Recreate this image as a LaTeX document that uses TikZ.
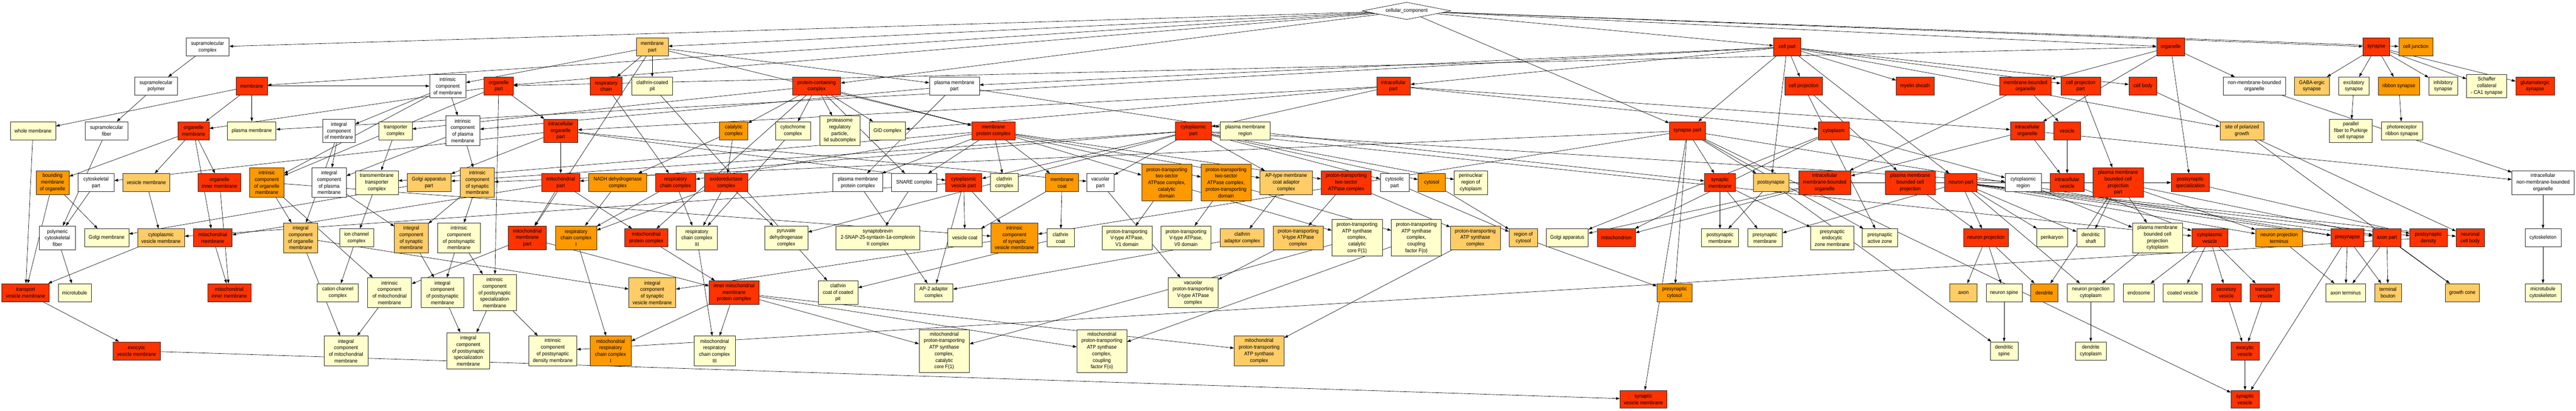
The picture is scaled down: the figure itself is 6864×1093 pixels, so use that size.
\documentclass[tikz,border=0pt]{standalone}
\usepackage{fontspec}
\setmainfont{Liberation Sans}[FakeStretch=0.92]
\usetikzlibrary{shapes.geometric,arrows.meta}
\definecolor{red1}{HTML}{FF3300}
\definecolor{ora}{HTML}{FF9900}
\definecolor{lor}{HTML}{FFCC66}
\definecolor{ly}{HTML}{FFFFCC}
\pgfdeclarelayer{back}
\pgfdeclarelayer{bg}
\pgfsetlayers{back,bg,main}
\tikzset{
  box/.style={draw=black!85,line width=0.9pt,inner sep=0pt,align=center,text=black,
    font=\fontsize{14pt}{17.4pt}\selectfont},
  lnk/.style={draw=black,line width=0.9pt,-{Triangle[length=10pt,width=7pt]}}
}
\newcommand\nd[7]{\node[box,fill=#6,minimum width=#4pt,minimum height=#5pt] (#1) at (#2,#3) {#7};}
\begin{document}
\begin{tikzpicture}[x=1pt,y=-1pt]
\begin{pgfonlayer}{back}
\fill[white] (0,0) rectangle (6864,1093);
\end{pgfonlayer}
\useasboundingbox (0,0) rectangle (6864,1093);
% row 0
\node[diamond,draw=black,line width=0.9pt,fill=white,aspect=5.15,inner sep=0pt,minimum width=237pt,minimum height=46pt,font=\fontsize{14pt}{17.4pt}\selectfont] (cc) at (3748,29) {cellular\_component};
% row 1
\nd{supcx}{553}{125}{115}{48}{white}{supramolecular\\complex}
\nd{mempart}{1738}{125}{85}{48}{lor}{membrane\\part}
\nd{cellpart}{4762}{125}{73}{48}{red1}{cell part}
\nd{organelle}{5784}{125}{75}{48}{red1}{organelle}
\nd{synapse}{6332}{125}{72}{48}{red1}{synapse}
\nd{celljunc}{6437}{125}{91}{48}{ora}{cell junction}
% row 2
\nd{suppoly}{416}{229}{114}{48}{white}{supramolecular\\polymer}
\nd{membrane}{671}{229}{83}{48}{red1}{membrane}
\nd{intrmem}{1193}{229}{96}{62}{white}{intrinsic\\component\\of membrane}
\nd{orgpart}{1329}{229}{78}{48}{red1}{organelle\\part}
\nd{respchain}{1615}{229}{85}{48}{red1}{respiratory\\chain}
\nd{ccpit}{1738}{229}{109}{48}{ly}{clathrin-coated\\pit}
\nd{pcc}{2176}{229}{128}{48}{red1}{protein-containing\\complex}
\nd{pmpart}{2543}{229}{133}{48}{white}{plasma membrane\\part}
\nd{icpart}{3713}{229}{90}{48}{red1}{intracellular\\part}
\nd{cellproj}{4806}{229}{101}{48}{red1}{cell projection}
\nd{myelin}{5103}{229}{101}{48}{red1}{myelin sheath}
\nd{mbo}{5397}{229}{138}{48}{red1}{membrane-bounded\\organelle}
\nd{cppart}{5544}{229}{106}{48}{red1}{cell projection\\part}
\nd{cellbody}{5710}{229}{75}{48}{red1}{cell body}
\nd{nmbo}{6007}{229}{165}{48}{white}{non-membrane-bounded\\organelle}
\nd{gaba}{6160}{229}{94}{48}{lor}{GABA-ergic\\synapse}
\nd{excit}{6272}{229}{82}{48}{ly}{excitatory\\synapse}
\nd{ribbon}{6392}{229}{110}{48}{ora}{ribbon synapse}
\nd{inhib}{6510}{229}{77}{48}{ly}{inhibitory\\synapse}
\nd{schaffer}{6626}{229}{107}{62}{ly}{Schaffer\\collateral\\- CA1 synapse}
\nd{glut}{6755}{229}{103}{48}{red1}{glutamatergic\\synapse}
% row 3
\nd{wholemem}{88}{348}{121}{48}{ly}{whole membrane}
\nd{supfiber}{284}{348}{114}{48}{white}{supramolecular\\fiber}
\nd{orgmem}{516}{348}{83}{48}{red1}{organelle\\membrane}
\nd{pm}{671}{348}{129}{48}{ly}{plasma membrane}
\nd{integmem}{903}{348}{86}{62}{white}{integral\\component\\of membrane}
\nd{transpc}{1054}{348}{88}{48}{ly}{transporter\\complex}
\nd{intrpm}{1233}{348}{91}{79}{white}{intrinsic\\component\\of plasma\\membrane}
\nd{icorgpart}{1494}{348}{91}{62}{red1}{intracellular\\organelle\\part}
\nd{catc}{1955}{348}{75}{48}{ora}{catalytic\\complex}
\nd{cytoc}{2113}{348}{94}{48}{ly}{cytochrome\\complex}
\nd{proteasome}{2238}{348}{108}{79}{ly}{proteasome\\regulatory\\particle,\\lid subcomplex}
\nd{gid}{2365}{348}{96}{48}{ly}{GID complex}
\nd{mpc}{2647}{348}{115}{48}{red1}{membrane\\protein complex}
\nd{cytopart}{3180}{348}{96}{48}{red1}{cytoplasmic\\part}
\nd{pmregion}{3318}{348}{134}{48}{ly}{plasma membrane\\region}
\nd{synpart}{4496}{348}{96}{48}{red1}{synapse part}
\nd{cytoplasm}{4886}{348}{83}{48}{red1}{cytoplasm}
\nd{icorg}{5402}{348}{91}{48}{red1}{intracellular\\organelle}
\nd{vesicle}{5508}{348}{72}{48}{red1}{vesicle}
\nd{spg}{5974}{348}{117}{48}{lor}{site of polarized\\growth}
\nd{pfpc}{6264}{348}{114}{62}{ly}{parallel\\fiber to Purkinje\\cell synapse}
\nd{photorib}{6400}{348}{110}{48}{ly}{photoreceptor\\ribbon synapse}
% row 4
\nd{boundmem}{140}{486}{88}{63}{ora}{bounding\\membrane\\of organelle}
\nd{cytoskpart}{256}{486}{96}{48}{white}{cytoskeletal\\part}
\nd{vesmem}{390}{486}{125}{48}{lor}{vesicle membrane}
\nd{orginner}{585}{486}{114}{48}{red1}{organelle\\inner membrane}
\nd{introrgmem}{711}{486}{91}{79}{ora}{intrinsic\\component\\of organelle\\membrane}
\nd{integpm}{877}{486}{91}{79}{white}{integral\\component\\of plasma\\membrane}
\nd{tmtc}{1004}{486}{114}{63}{ly}{transmembrane\\transporter\\complex}
\nd{golgipart}{1143}{486}{117}{48}{lor}{Golgi apparatus\\part}
\nd{intrsynmem}{1272}{486}{90}{79}{lor}{intrinsic\\component\\of synaptic\\membrane}
\nd{mitopart}{1494}{486}{101}{48}{red1}{mitochondrial\\part}
\nd{nadh}{1646}{486}{155}{48}{ora}{NADH dehydrogenase\\complex}
\nd{rcc}{1800}{486}{107}{48}{red1}{respiratory\\chain complex}
\nd{oxred}{1935}{486}{115}{48}{red1}{oxidoreductase\\complex}
\nd{pmpc}{2286}{486}{133}{48}{white}{plasma membrane\\protein complex}
\nd{snare}{2436}{486}{120}{48}{white}{SNARE complex}
\nd{cvpart}{2568}{486}{96}{48}{red1}{cytoplasmic\\vesicle part}
\nd{clathc}{2676}{486}{73}{48}{ly}{clathrin\\complex}
\nd{memcoat}{2830}{486}{87}{48}{ora}{membrane\\coat}
\nd{vacpart}{2932}{486}{73}{48}{white}{vacuolar\\part}
\nd{ptcat}{3109}{486}{134}{97}{ora}{proton-transporting\\two-sector\\ATPase complex,\\catalytic\\domain}
\nd{ptdom}{3267}{486}{133}{97}{ora}{proton-transporting\\two-sector\\ATPase complex,\\proton-transporting\\domain}
\nd{aptype}{3427}{486}{139}{63}{lor}{AP-type membrane\\coat adaptor\\complex}
\nd{pt2s}{3587}{486}{133}{63}{red1}{proton-transporting\\two-sector\\ATPase complex}
\nd{cytosolpart}{3716}{486}{77}{48}{white}{cytosolic\\part}
\nd{cytosol}{3815}{486}{73}{48}{ora}{cytosol}
\nd{perinuc}{3919}{486}{88}{63}{ly}{perinuclear\\region of\\cytoplasm}
\nd{synmem}{4583}{486}{83}{48}{red1}{synaptic\\membrane}
\nd{postsyn}{4719}{486}{95}{48}{lor}{postsynapse}
\nd{imbo}{4862}{486}{139}{63}{red1}{intracellular\\membrane-bounded\\organelle}
\nd{pmbcp}{5090}{486}{133}{63}{red1}{plasma membrane\\bounded cell\\projection}
\nd{neuronpart}{5225}{486}{86}{48}{red1}{neuron part}
\nd{cytoregion}{5391}{486}{96}{48}{white}{cytoplasmic\\region}
\nd{icves}{5508}{486}{91}{48}{red1}{intracellular\\vesicle}
\nd{pmbcppart}{5644}{486}{134}{79}{red1}{plasma membrane\\bounded cell\\projection\\part}
\nd{pss}{5836}{486}{102}{48}{red1}{postsynaptic\\specialization}
\nd{icnmbo}{6776}{486}{166}{63}{white}{intracellular\\non-membrane-bounded\\organelle}
% row 5
\nd{polycyto}{153}{633}{96}{63}{white}{polymeric\\cytoskeletal\\fiber}
\nd{golgimem}{284}{633}{118}{48}{ly}{Golgi membrane}
\nd{cvmem}{429}{633}{125}{48}{lor}{cytoplasmic\\vesicle membrane}
\nd{mitomem}{567}{633}{103}{48}{red1}{mitochondrial\\membrane}
\nd{integorgmem}{801}{633}{91}{79}{lor}{integral\\component\\of organelle\\membrane}
\nd{ionch}{950}{633}{91}{48}{ly}{ion channel\\complex}
\nd{integsynmem}{1096}{633}{90}{79}{lor}{integral\\component\\of synaptic\\membrane}
\nd{intrpostmem}{1223}{633}{114}{79}{ly}{intrinsic\\component\\of postsynaptic\\membrane}
\nd{mitomempart}{1405}{633}{102}{63}{red1}{mitochondrial\\membrane\\part}
\nd{rcc1}{1535}{633}{109}{63}{ora}{respiratory\\chain complex\\I}
\nd{mitopc}{1722}{633}{115}{48}{red1}{mitochondrial\\protein complex}
\nd{rcc3}{1857}{633}{110}{63}{ly}{respiratory\\chain complex\\III}
\nd{pdh}{2095}{633}{115}{63}{ly}{pyruvate\\dehydrogenase\\complex}
\nd{snap}{2339}{633}{224}{63}{ly}{synaptobrevin\\2-SNAP-25-syntaxin-1a-complexin\\II complex}
\nd{vescoat}{2571}{633}{91}{48}{ly}{vesicle coat}
\nd{intrsvmem}{2703}{633}{125}{79}{ora}{intrinsic\\component\\of synaptic\\vesicle membrane}
\nd{clathcoat}{2826}{633}{73}{48}{ly}{clathrin\\coat}
\nd{v1}{3003}{633}{133}{63}{ly}{proton-transporting\\V-type ATPase,\\V1 domain}
\nd{v0}{3160}{633}{134}{63}{ly}{proton-transporting\\V-type ATPase,\\V0 domain}
\nd{clathad}{3310}{633}{117}{48}{lor}{clathrin\\adaptor complex}
\nd{vtype}{3459}{633}{133}{63}{lor}{proton-transporting\\V-type ATPase\\complex}
\nd{atpf1}{3616}{633}{134}{97}{ly}{proton-transporting\\ATP synthase\\complex,\\catalytic\\core F(1)}
\nd{atpfo}{3774}{633}{133}{97}{ly}{proton-transporting\\ATP synthase\\complex,\\coupling\\factor F(o)}
\nd{atpsc}{3931}{633}{133}{63}{lor}{proton-transporting\\ATP synthase\\complex}
\nd{regcytosol}{4059}{633}{76}{48}{lor}{region of\\cytosol}
\nd{golgi}{4176}{633}{112}{48}{ly}{Golgi apparatus}
\nd{mito}{4307}{633}{101}{48}{red1}{mitochondrion}
\nd{postsynmem}{4583}{633}{99}{48}{ly}{postsynaptic\\membrane}
\nd{presynmem}{4703}{633}{93}{48}{ly}{presynaptic\\membrane}
\nd{presynendo}{4882}{633}{115}{63}{ly}{presynaptic\\endocytic\\zone membrane}
\nd{presynactive}{5009}{633}{94}{48}{ly}{presynaptic\\active zone}
\nd{neuronproj}{5292}{633}{120}{48}{red1}{neuron projection}
\nd{perikaryon}{5468}{633}{83}{48}{ly}{perikaryon}
\nd{dendshaft}{5571}{633}{75}{48}{ly}{dendritic\\shaft}
\nd{pmbcpcyto}{5749}{633}{134}{79}{ly}{plasma membrane\\bounded cell\\projection\\cytoplasm}
\nd{cytoves}{5888}{633}{96}{48}{red1}{cytoplasmic\\vesicle}
\nd{npterm}{6073}{633}{126}{48}{ora}{neuron projection\\terminus}
\nd{presyn}{6255}{633}{88}{48}{red1}{presynapse}
\nd{axonpart}{6360}{633}{75}{48}{red1}{axon part}
\nd{psd}{6471}{633}{99}{48}{red1}{postsynaptic\\density}
\nd{ncb}{6582}{633}{75}{48}{red1}{neuronal\\cell body}
\nd{cytosk}{6776}{633}{96}{48}{white}{cytoskeleton}
% row 6
\nd{tvm}{68}{779}{126}{48}{red1}{transport\\vesicle membrane}
\nd{microtubule}{199}{779}{88}{48}{ly}{microtubule}
\nd{mitoinner}{611}{779}{115}{48}{red1}{mitochondrial\\inner membrane}
\nd{cation}{900}{779}{110}{48}{ly}{cation channel\\complex}
\nd{intrmitomem}{1038}{779}{117}{79}{ly}{intrinsic\\component\\of mitochondrial\\membrane}
\nd{integpostmem}{1179}{779}{115}{79}{ly}{integral\\component\\of postsynaptic\\membrane}
\nd{intrpssmem}{1318}{779}{115}{97}{ly}{intrinsic\\component\\of postsynaptic\\specialization\\membrane}
\nd{integsvmem}{1738}{779}{125}{79}{lor}{integral\\component\\of synaptic\\vesicle membrane}
\nd{imimpc}{1956}{779}{133}{63}{red1}{inner mitochondrial\\membrane\\protein complex}
\nd{ccoatpit}{2233}{779}{106}{63}{ly}{clathrin\\coat of coated\\pit}
\nd{ap2}{2488}{779}{102}{48}{ly}{AP-2 adaptor\\complex}
\nd{vacvtype}{3179}{779}{133}{79}{ly}{vacuolar\\proton-transporting\\V-type ATPase\\complex}
\nd{presyncytosol}{4462}{779}{94}{48}{ora}{presynaptic\\cytosol}
\nd{axon}{5232}{779}{73}{48}{lor}{axon}
\nd{nspine}{5340}{779}{96}{48}{ly}{neuron spine}
\nd{dendrite}{5447}{779}{73}{48}{ora}{dendrite}
\nd{npcyto}{5571}{779}{125}{48}{ly}{neuron projection\\cytoplasm}
\nd{endosome}{5699}{779}{83}{48}{ly}{endosome}
\nd{coatedves}{5816}{779}{104}{48}{ly}{coated vesicle}
\nd{secves}{5932}{779}{80}{48}{red1}{secretory\\vesicle}
\nd{transves}{6035}{779}{78}{48}{red1}{transport\\vesicle}
\nd{axonterm}{6250}{779}{105}{48}{ly}{axon terminus}
\nd{termbouton}{6363}{779}{71}{48}{lor}{terminal\\bouton}
\nd{growthcone}{6561}{779}{91}{48}{lor}{growth cone}
\nd{mtcytosk}{6776}{779}{96}{48}{ly}{microtubule\\cytoskeleton}
% row 7
\nd{exovesmem}{364}{934}{126}{48}{red1}{exocytic\\vesicle membrane}
\nd{integmitomem}{922}{934}{117}{79}{ly}{integral\\component\\of mitochondrial\\membrane}
\nd{integpssmem}{1248}{934}{114}{97}{ly}{integral\\component\\of postsynaptic\\specialization\\membrane}
\nd{intrpsdmem}{1473}{934}{128}{79}{ly}{intrinsic\\component\\of postsynaptic\\density membrane}
\nd{mrcc1}{1627}{934}{109}{79}{ora}{mitochondrial\\respiratory\\chain complex\\I}
\nd{mrcc3}{1904}{934}{110}{79}{ly}{mitochondrial\\respiratory\\chain complex\\III}
\nd{mitof1}{2516}{934}{134}{114}{ly}{mitochondrial\\proton-transporting\\ATP synthase\\complex,\\catalytic\\core F(1)}
\nd{mitofo}{2936}{934}{133}{114}{ly}{mitochondrial\\proton-transporting\\ATP synthase\\complex,\\coupling\\factor F(o)}
\nd{mitoatp}{3355}{934}{133}{79}{lor}{mitochondrial\\proton-transporting\\ATP synthase\\complex}
\nd{dendspine}{5340}{934}{74}{48}{ly}{dendritic\\spine}
\nd{dendcyto}{5571}{934}{83}{48}{ly}{dendrite\\cytoplasm}
\nd{exoves}{5982}{934}{75}{48}{red1}{exocytic\\vesicle}
% row 8
\nd{svmem}{4379}{1063}{125}{48}{red1}{synaptic\\vesicle membrane}
\nd{synves}{5982}{1063}{75}{48}{red1}{synaptic\\vesicle}
% edges
\begin{pgfonlayer}{bg}
\foreach \a/\b in {cc/supcx,cc/membrane,cc/mempart,cc/orgpart,cc/pcc,cc/cellpart,cc/organelle,cc/synapse,cc/celljunc,cc/synpart,
supcx/suppoly,suppoly/supfiber,
membrane/wholemem,membrane/orgmem,membrane/pm,membrane/intrmem,
mempart/intrmem,mempart/respchain,mempart/ccpit,mempart/pmpart,mempart/mpc,mempart/mitomempart,
organelle/orgpart,organelle/mbo,organelle/nmbo,organelle/icorg,organelle/pss,
cellpart/icpart,cellpart/cellproj,cellpart/myelin,cellpart/cppart,cellpart/cellbody,cellpart/pmpart,cellpart/pm,cellpart/synpart,cellpart/spg,cellpart/postsyn,cellpart/neuronpart,
synapse/gaba,synapse/excit,synapse/ribbon,synapse/inhib,synapse/schaffer,synapse/glut,
intrmem/integmem,intrmem/intrpm,intrmem/introrgmem,
orgpart/orgmem,orgpart/icorgpart,orgpart/introrgmem,orgpart/intrpssmem,
respchain/rcc,ccpit/ccoatpit,
pcc/transpc,pcc/catc,pcc/cytoc,pcc/proteasome,pcc/gid,pcc/mpc,pcc/mitopc,pcc/snare,
pmpart/intrpm,pmpart/pmpc,pmpart/pmregion,
icpart/icorgpart,icpart/cytopart,icpart/cytoplasm,icpart/icorg,icpart/gid,
cellproj/pmbcp,cellproj/presynactive,
mbo/vesicle,mbo/imbo,cppart/pmbcppart,cellbody/ncb,nmbo/icnmbo,
excit/pfpc,ribbon/photorib,
integmem/integpm,integmem/integorgmem,transpc/tmtc,
intrpm/integpm,intrpm/intrsynmem,
icorgpart/cytoskpart,icorgpart/golgipart,icorgpart/mitopart,icorgpart/cvpart,icorgpart/vacpart,
catc/oxred,catc/nadh,cytoc/rcc3,
mpc/tmtc,mpc/rcc,mpc/pmpc,mpc/snare,mpc/clathc,mpc/memcoat,mpc/ptcat,mpc/ptdom,mpc/pt2s,mpc/aptype,
cytopart/golgipart,cytopart/mitopart,cytopart/cvpart,cytopart/vacpart,cytopart/aptype,cytopart/cytosolpart,cytopart/cytosol,cytopart/perinuc,cytopart/cytoregion,cytopart/cytoves,cytopart/pdh,
pmregion/synmem,
synpart/synmem,synpart/postsyn,synpart/intrsynmem,synpart/presynactive,synpart/presyn,synpart/presyncytosol,synpart/svmem,synpart/intrsvmem,synpart/synves,
cytoplasm/cytoregion,cytoplasm/golgi,cytoplasm/mito,
icorg/imbo,icorg/icves,icorg/icnmbo,vesicle/icves,spg/growthcone,
orgmem/boundmem,orgmem/vesmem,orgmem/orginner,orgmem/mitomem,
cytoskpart/polycyto,supfiber/polycyto,vesmem/cvmem,orginner/mitoinner,
introrgmem/integorgmem,introrgmem/intrmitomem,introrgmem/intrsvmem,
integpm/integsynmem,tmtc/ionch,golgipart/golgimem,
intrsynmem/integsynmem,intrsynmem/intrpostmem,
mitopart/mitomem,mitopart/mitomempart,mitopart/mitopc,
nadh/rcc1,rcc/rcc1,rcc/rcc3,oxred/rcc1,oxred/rcc3,oxred/pdh,
pmpc/ap2,snare/snap,
cvpart/cvmem,cvpart/vescoat,cvpart/intrsvmem,cvpart/ap2,
memcoat/clathcoat,memcoat/vescoat,vacpart/vacvtype,
ptcat/v1,ptdom/v0,ptcat/atpf1,ptdom/atpfo,aptype/clathad,pt2s/vtype,pt2s/atpsc,
cytosolpart/regcytosol,cytosol/regcytosol,
synmem/postsynmem,synmem/presynmem,synmem/presynendo,
postsyn/postsynmem,postsyn/pss,postsyn/dendspine,
imbo/golgi,imbo/mito,pmbcp/neuronproj,
neuronpart/neuronproj,neuronpart/perikaryon,neuronpart/dendshaft,neuronpart/npterm,neuronpart/presyn,neuronpart/axonpart,neuronpart/psd,neuronpart/ncb,neuronpart/npcyto,neuronpart/pss,neuronpart/presynmem,
cytoregion/pmbcpcyto,icves/cytoves,
pmbcppart/dendshaft,pmbcppart/pmbcpcyto,pmbcppart/dendrite,pmbcppart/npterm,pmbcppart/axonpart,
pss/psd,icnmbo/cytosk,
boundmem/golgimem,boundmem/tvm,wholemem/tvm,polycyto/microtubule,cvmem/tvm,mitomem/mitoinner,
integorgmem/integmitomem,integorgmem/integsvmem,ionch/cation,integsynmem/integpostmem,
intrpostmem/integpostmem,intrpostmem/intrpssmem,
mitomempart/intrmitomem,mitomempart/imimpc,
rcc1/mrcc1,mitopc/imimpc,rcc3/mrcc3,intrsvmem/integsvmem,clathcoat/ccoatpit,clathad/ap2,vtype/vacvtype,
atpf1/mitof1,atpfo/mitofo,atpsc/mitoatp,regcytosol/presyncytosol,
neuronproj/axon,neuronproj/nspine,neuronproj/dendrite,pmbcpcyto/npcyto,
cytoves/endosome,cytoves/coatedves,cytoves/secves,cytoves/transves,
npterm/axonterm,presyn/axonterm,presyn/termbouton,presyn/synves,axonpart/axonterm,axonpart/termbouton,axonpart/growthcone,
cytosk/mtcytosk,tvm/exovesmem,intrmitomem/integmitomem,
integpostmem/integpssmem,intrpssmem/integpssmem,intrpssmem/intrpsdmem,psd/intrpsdmem,
imimpc/mrcc1,imimpc/mrcc3,imimpc/mitof1,imimpc/mitofo,imimpc/mitoatp,
nspine/dendspine,npcyto/dendcyto,secves/exoves,transves/exoves,
exovesmem/svmem,exoves/synves}
  \draw[lnk] (\a) -- (\b);
\end{pgfonlayer}
\end{tikzpicture}
\end{document}
